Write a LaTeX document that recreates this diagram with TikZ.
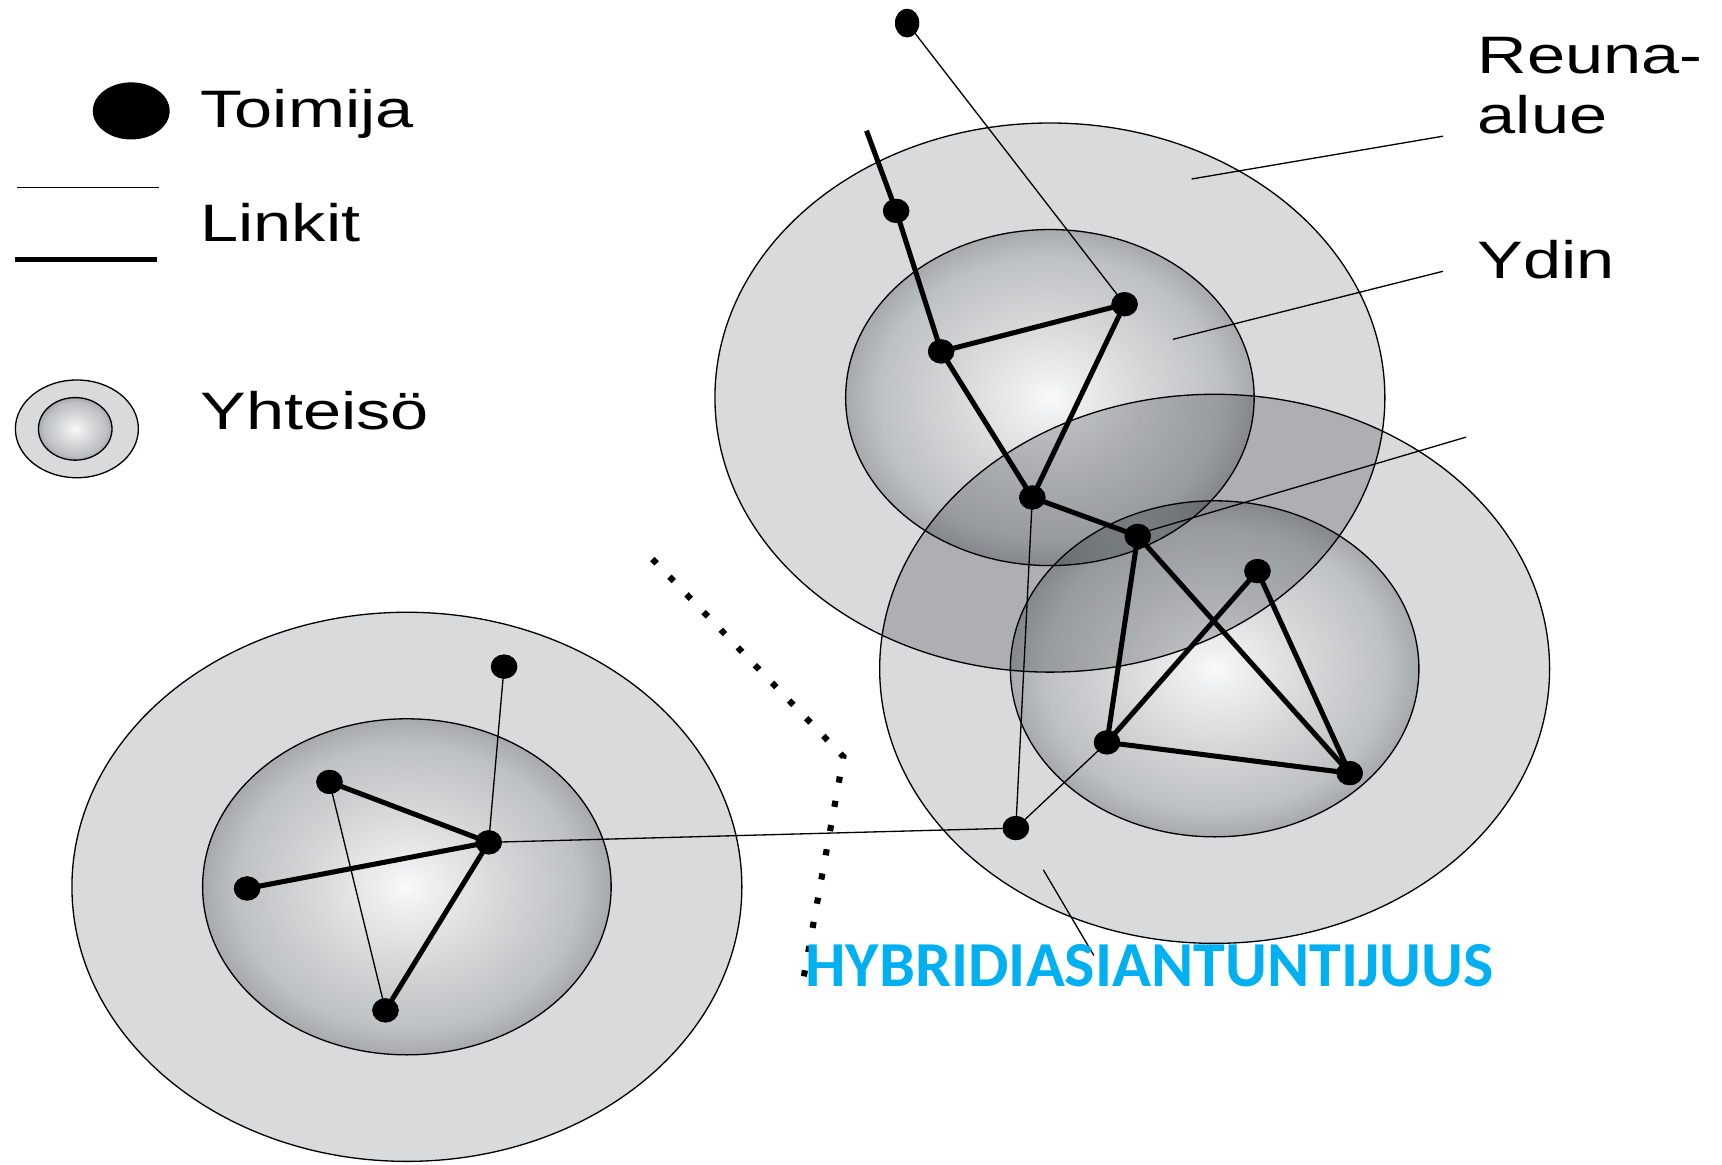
\documentclass[tikz,border=0pt]{standalone}
\usepackage{fontspec}
\setmainfont{Liberation Sans}
\newfontfamily\hybfont{Carlito}
\usetikzlibrary{shapes.geometric}
\definecolor{ringc}{RGB}{217,218,220}
\definecolor{overlapc}{RGB}{240,241,242}
\definecolor{corec0}{RGB}{250,250,251}
\definecolor{corec1}{RGB}{238,239,240}
\definecolor{corec2}{RGB}{212,214,216}
\definecolor{corec3}{RGB}{190,193,195}
\definecolor{corec4}{RGB}{166,170,173}
\definecolor{hybblue}{RGB}{0,176,240}
\pgfdeclareradialshading{coreshade}{\pgfpoint{0bp}{0bp}}{color(0bp)=(corec0); color(3bp)=(corec1); color(12bp)=(corec2); color(21bp)=(corec3); color(25bp)=(corec4); color(50bp)=(corec4)}
\tikzset{
  outline/.style={draw=black, line width=0.6pt},
  thinlink/.style={line width=0.6pt},
  thicklink/.style={line width=2.3pt},
  actor/.style={ellipse, fill=black, inner sep=0pt, minimum width=12pt, minimum height=11pt},
  lbl/.style={font=\fontsize{24}{28}\selectfont, xscale=1.3, inner sep=0pt, anchor=base west},
  dotline/.style={line width=2.8pt, dash pattern=on 2.8pt off 8.4pt},
}
\newcommand{\commfill}[1]{%
  \fill[ringc, even odd rule, blend mode=multiply] (#1) ellipse [x radius=152.5pt, y radius=125pt] (#1) ellipse [x radius=93pt, y radius=76.5pt];
  \shade[shading=coreshade, blend mode=multiply] (#1) ellipse [x radius=93pt, y radius=76.5pt];}
\newcommand{\commline}[1]{%
  \draw[outline] (#1) ellipse [x radius=152.5pt, y radius=125pt];
  \draw[outline] (#1) ellipse [x radius=93pt, y radius=76.5pt];}
\begin{document}
\begin{tikzpicture}[x=0.5pt, y=-0.5pt]
\useasboundingbox (0,0) rectangle (1568,1060);
% community centres
\coordinate (LL) at (370.5,807.5);
\coordinate (CA) at (956,362);
\coordinate (CB) at (1106,609);
\coordinate (LS) at (70,390.5);
% fills
\commfill{LL}
\commfill{CA}
\commfill{CB}
\begin{scope}
  \clip (CA) ellipse [x radius=152.5pt, y radius=125pt];
  \fill[overlapc, blend mode=multiply] (CB) ellipse [x radius=152.5pt, y radius=125pt];
\end{scope}
% legend community symbol
\fill[ringc, even odd rule] (LS) ellipse [x radius=28pt, y radius=22.25pt] ([xshift=-0.75pt]LS) ellipse [x radius=16.75pt, y radius=14.25pt];
\shade[shading=coreshade] ([xshift=-0.75pt]LS) ellipse [x radius=16.75pt, y radius=14.25pt];
\draw[outline] (LS) ellipse [x radius=28pt, y radius=22.25pt];
\draw[outline] ([xshift=-0.75pt]LS) ellipse [x radius=16.75pt, y radius=14.25pt];
% outlines
\commline{LL}
\commline{CA}
\commline{CB}
% actors lower-left
\node[actor] (A1) at (459,607) {};
\node[actor] (A2) at (300,712) {};
\node[actor] (A3) at (445,767) {};
\node[actor] (A4) at (225,809) {};
\node[actor] (A5) at (351,920) {};
% actors upper-right
\node[actor, minimum height=13pt, minimum width=11pt] (B1) at (826,21) {};
\node[actor] (B2) at (816,192) {};
\node[actor] (B3) at (857,320) {};
\node[actor] (B4) at (1024,277) {};
\node[actor] (B5) at (940,453) {};
\node[actor] (B6) at (1036,488) {};
\node[actor] (B7) at (1145,520) {};
\node[actor] (B8) at (1008,676) {};
\node[actor] (B9) at (1229,704) {};
\node[actor] (B10) at (925,754) {};
\coordinate (T0) at (789,119);
% links
\draw[thinlink] (A1.center) -- (A3.center);
\draw[thinlink] (A2.center) -- (A5.center);
\draw[thicklink] (A2.center) -- (A3.center);
\draw[thicklink] (A4.center) -- (A3.center);
\draw[thicklink] (A5.center) -- (A3.center);
\draw[thinlink] (A3.center) -- (B10.center);
\draw[thinlink] (B1.center) -- (B4.center);
\draw[thinlink] (B5.center) -- (B10.center);
\draw[thinlink] (B10.center) -- (B8.center);
\draw[thicklink] (T0) -- (B2.center) -- (B3.center) -- (B5.center) -- (B6.center) -- (B9.center);
\draw[thicklink] (B3.center) -- (B4.center) -- (B5.center);
\draw[thicklink] (B6.center) -- (B8.center) -- (B7.center) -- (B9.center) -- (B8.center);
% redraw actors on top
\foreach \n in {A1,A2,A3,A4,A5,B2,B3,B4,B5,B6,B7,B8,B9,B10}{\fill (\n.center) ellipse [x radius=6pt, y radius=5.5pt];}
\fill (B1.center) ellipse [x radius=5.5pt, y radius=6.5pt];
% leader lines
\coordinate (R1) at (1314,124); \coordinate (R2) at (1085,163);
\coordinate (Y1) at (1314,247); \coordinate (Y2) at (1068,309);
\coordinate (Q1) at (1335,398); \coordinate (Q2) at (1047,483);
\coordinate (H1) at (950,792);  \coordinate (H2) at (996,870);
\draw[thinlink] (R1) -- (R2);
\draw[thinlink] (Y1) -- (Y2);
\draw[thinlink] (Q1) -- (Q2);
\draw[thinlink] (H1) -- (H2);
% dotted boundary
\coordinate (D1) at (594,509);
\coordinate (D2) at (768,689);
\coordinate (D3) at (730,900);
\draw[dotline] (D1) -- (D2) -- (D3);
% legend
\node[actor, minimum width=35pt, minimum height=26pt] (LT) at (119.5,101) {};
\coordinate (L1a) at (15.5,171); \coordinate (L1b) at (145,171);
\coordinate (L2a) at (14,236); \coordinate (L2b) at (143,236);
\draw[thinlink] (L1a) -- (L1b);
\draw[thicklink] (L2a) -- (L2b);
\node[lbl] (toimija) at (182,116.5) {Toimija};
\node[lbl] (linkit) at (182,220) {Linkit};
\node[lbl] (yhteiso) at (182,391.5) {Yhteisö};
\node[lbl] (reuna1) at (1345,67) {Reuna-};
\node[lbl] (reuna2) at (1345,122) {alue};
\node[lbl] (ydin) at (1345,254) {Ydin};
% title
\node[anchor=base west, inner sep=0pt, text=hybblue, font=\hybfont\bfseries\fontsize{29.2}{34}\selectfont] (hyb) at (733,898) {HYBRIDIASIANTUNTIJUUS};
\end{tikzpicture}
\end{document}
